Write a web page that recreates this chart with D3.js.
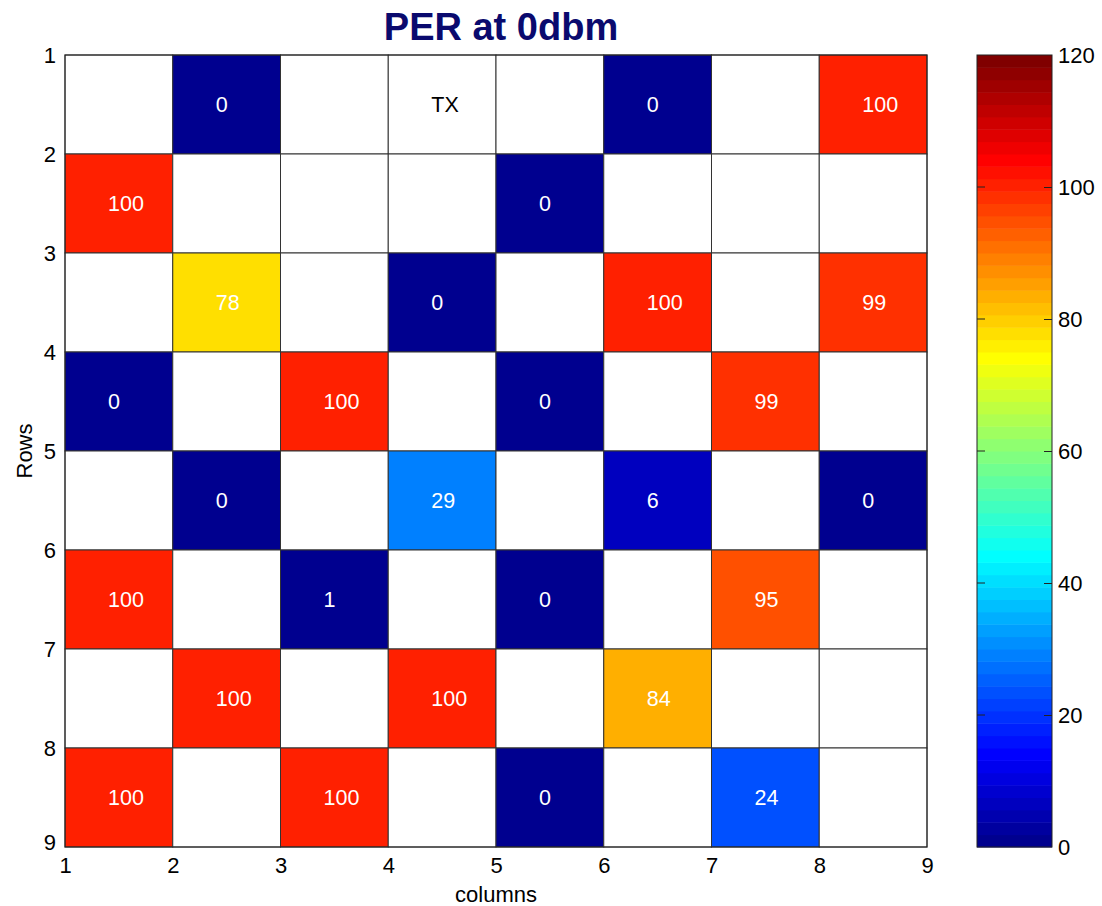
<!DOCTYPE html>
<html><head><meta charset="utf-8">
<script src="https://cdn.jsdelivr.net/npm/d3@7"></script>
<style>body{margin:0;background:#fff;} text{font-family:Arial,"Liberation Sans",sans-serif;}</style>
</head><body>
<svg id="chart" width="1102" height="906"></svg>
<script>
// ---- data ----
const title = "PER at 0dbm";
const xLabel = "columns";
const yLabel = "Rows";
const rowStarts = [1,2,3,4,5,6,7,8];
const colStarts = [1,2,3,4,5,6,7,8];
// null = empty (white) cell
const row1 = [null, 0, null, null, null, 0, null, 100];
const row2 = [100, null, null, null, 0, null, null, null];
const row3 = [null, 78, null, 0, null, 100, null, 99];
const row4 = [0, null, 100, null, 0, null, 99, null];
const row5 = [null, 0, null, 29, null, 6, null, 0];
const row6 = [100, null, 1, null, 0, null, 95, null];
const row7 = [null, 100, null, 100, null, 84, null, null];
const row8 = [100, null, 100, null, 0, null, 24, null];
const rows = [row1, row2, row3, row4, row5, row6, row7, row8];
const markers = [{row: 1, col: 4, label: "TX"}];
const axisTicks = [1,2,3,4,5,6,7,8,9];
const colorTicks = [0,20,40,60,80,100,120];
const colorDomain = [0, 120];

// ---- MATLAB jet(64) ----
function jetMap(n){
  const m = Math.ceil(n/4);
  const u = [];
  for(let k=1;k<=m;k++) u.push(k/m);
  for(let k=0;k<m-1;k++) u.push(1);
  for(let k=m;k>=1;k--) u.push(k/m);
  const g0 = Math.ceil(m/2) - (n%4===1?1:0);
  const R = new Array(n).fill(0), G = new Array(n).fill(0), B = new Array(n).fill(0);
  u.forEach((val,k)=>{
    const g = g0 + k + 1, r = g + m, b = g - m;
    if (g>=1 && g<=n) G[g-1]=val;
    if (r>=1 && r<=n) R[r-1]=val;
    if (b>=1 && b<=n) B[b-1]=val;
  });
  return d3.range(n).map(i=>d3.rgb(Math.round(R[i]*255),Math.round(G[i]*255),Math.round(B[i]*255)).formatHex());
}
const cmap = jetMap(64);
function colorOf(v){
  let idx = Math.floor((v-colorDomain[0])/(colorDomain[1]-colorDomain[0])*64);
  idx = Math.max(0, Math.min(63, idx));
  return cmap[idx];
}

// ---- layout ----
const svg = d3.select("#chart");
const x = d3.scaleLinear().domain([1,9]).range([65,927]);
const y = d3.scaleLinear().domain([1,9]).range([55,847]);
const cb = d3.scaleLinear().domain(colorDomain).range([847,55]);
const cbX0 = 977, cbX1 = 1052;

// cells
const cells = [];
rows.forEach((r,ri)=>r.forEach((v,ci)=>cells.push({row: rowStarts[ri], col: colStarts[ci], v})));
svg.append("g").selectAll("rect").data(cells).join("rect")
  .attr("x", d=>x(d.col)).attr("y", d=>y(d.row))
  .attr("width", d=>x(d.col+1)-x(d.col)).attr("height", d=>y(d.row+1)-y(d.row))
  .attr("fill", d=>d.v===null?"#ffffff":colorOf(d.v))
  .attr("stroke", "#333333").attr("stroke-width", 1);

// cell labels
const labels = cells.filter(d=>d.v!==null).map(d=>({row:d.row,col:d.col,text:String(d.v),color:"#ffffff"}))
  .concat(markers.map(m=>({row:m.row,col:m.col,text:m.label,color:"#000000"})));
svg.append("g").selectAll("text").data(labels).join("text")
  .attr("x", d=>x(d.col+0.4)).attr("y", d=>y(d.row+0.5))
  .attr("dy", "0.35em")
  .attr("font-size", 21.5).attr("fill", d=>d.color)
  .text(d=>d.text);

// frame
svg.append("rect").attr("x", x(1)).attr("y", y(1)).attr("width", x(9)-x(1)).attr("height", y(9)-y(1))
  .attr("fill","none").attr("stroke","#222").attr("stroke-width",1);

// axes
const xAxis = svg.append("g").attr("transform", `translate(0,${y(9)})`)
  .call(d3.axisBottom(x).tickValues(axisTicks).tickFormat(d3.format("d")).tickSize(0).tickPadding(10));
xAxis.select(".domain").remove();
xAxis.selectAll("text").attr("font-size", 22).attr("fill","#000").attr("font-family","Arial, Liberation Sans, sans-serif");
const yAxis = svg.append("g").attr("transform", `translate(${x(1)},0)`)
  .call(d3.axisLeft(y).tickValues(axisTicks).tickFormat(d3.format("d")).tickSize(0).tickPadding(9));
yAxis.select(".domain").remove();
yAxis.selectAll("text").attr("font-size", 22).attr("fill","#000").attr("font-family","Arial, Liberation Sans, sans-serif")
  .attr("dy", d=>d===9?"0.1em":"0.32em");

// axis titles
svg.append("text").attr("x", (x(1)+x(9))/2).attr("y", 902).attr("text-anchor","middle")
  .attr("font-size", 22).text(xLabel);
svg.append("text").attr("transform", `translate(32,${(y(1)+y(9))/2}) rotate(-90)`).attr("text-anchor","middle")
  .attr("font-size", 22).text(yLabel);

// title
svg.append("text").attr("x", 501).attr("y", 40).attr("text-anchor","middle")
  .attr("font-size", 38).attr("font-weight","bold").attr("fill","#0a0a6e").text(title);

// colorbar
const bandH = (cb(colorDomain[0]) - cb(colorDomain[1]))/64;
svg.append("g").selectAll("rect").data(cmap).join("rect")
  .attr("x", cbX0).attr("width", cbX1-cbX0)
  .attr("y", (c,i)=>cb(colorDomain[0] + (i+1)*(colorDomain[1]-colorDomain[0])/64))
  .attr("height", bandH+0.5)
  .attr("fill", c=>c);
svg.append("rect").attr("x", cbX0).attr("y", cb(120)).attr("width", cbX1-cbX0).attr("height", cb(0)-cb(120))
  .attr("fill","none").attr("stroke","#222").attr("stroke-width",1);
const cbAxis = svg.append("g").attr("transform", `translate(${cbX1},0)`)
  .call(d3.axisRight(cb).tickValues(colorTicks).tickSize(-8).tickPadding(14));
cbAxis.select(".domain").remove();
cbAxis.selectAll("line").attr("stroke","#222").attr("opacity", d=>(d===0||d===120)?0:1);
cbAxis.selectAll("text").attr("font-size", 22).attr("fill","#000").attr("font-family","Arial, Liberation Sans, sans-serif").attr("x", 6);
svg.append("g").selectAll("line").data(colorTicks.filter(d=>d!==0&&d!==120)).join("line")
  .attr("x1", cbX0).attr("x2", cbX0+8).attr("y1", d=>cb(d)).attr("y2", d=>cb(d)).attr("stroke","#222");
</script>
</body></html>
